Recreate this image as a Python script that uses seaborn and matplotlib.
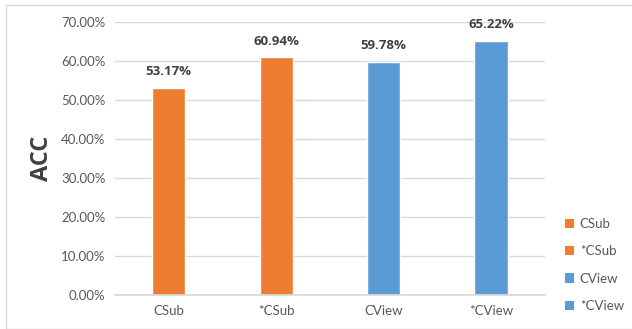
import matplotlib
matplotlib.use("Agg")
import matplotlib.pyplot as plt
import seaborn as sns
import pandas as pd
from matplotlib.patches import Rectangle, Patch
from matplotlib.ticker import FuncFormatter

categories = ["CSub", "*CSub", "CView", "*CView"]
values = [0.5317, 0.6094, 0.5978, 0.6522]
colors = ["#ED7D31", "#ED7D31", "#5B9BD5", "#5B9BD5"]
yticks = [0.0, 0.1, 0.2, 0.3, 0.4, 0.5, 0.6, 0.7]

sns.set_theme(style="white")
plt.rcParams['font.family'] = ['Lato', 'DejaVu Sans']

df = pd.DataFrame({"cat": categories, "acc": values})

fig = plt.figure(figsize=(6.32, 3.29), dpi=100)
ax = fig.add_axes([0.182, 0.1033, 0.68, 0.83])
sns.barplot(data=df, x="cat", y="acc", hue="cat", palette=dict(zip(categories, colors)),
            order=categories, hue_order=categories, dodge=False, width=0.31,
            saturation=1, ax=ax, legend=False)

ax.set_ylim(0, 0.7)
ax.set_yticks(yticks)
ax.yaxis.set_major_formatter(FuncFormatter(lambda v, p: f"{v*100:.2f}%"))
ax.grid(axis="y", color="#D9D9D9", linewidth=1)
ax.set_axisbelow(True)
for s in ["top", "right", "left"]:
    ax.spines[s].set_visible(False)
ax.spines["bottom"].set_color("#D9D9D9")
ax.tick_params(axis="both", length=0, labelsize=9.5, colors="#595959", pad=7)
ax.set_xlabel("")
ax.set_ylabel("ACC", fontsize=17, fontweight="bold", color="#404040", labelpad=5,
              family=["Open Sans", "DejaVu Sans"])

for c in ax.containers:
    ax.bar_label(c, labels=[f"{v*100:.2f}%" for v in c.datavalues], padding=7,
                 fontsize=9.5, fontweight="bold", color="#404040",
                 family=["Open Sans", "DejaVu Sans"])

handles = [Patch(facecolor=col, edgecolor="none") for col in colors]
leg = ax.legend(handles, categories, loc="center left", bbox_to_anchor=(1.02, 0.11),
                frameon=False, fontsize=9.5, handlelength=0.7, handleheight=0.7,
                handletextpad=0.4, labelspacing=1.15)
for t in leg.get_texts():
    t.set_color("#595959")

fig.patches.append(Rectangle((6/632, 0), 1, 1 - 5/329, transform=fig.transFigure,
                             fill=False, edgecolor="#D9D9D9", linewidth=1))

fig.savefig("out.png", dpi=100)
